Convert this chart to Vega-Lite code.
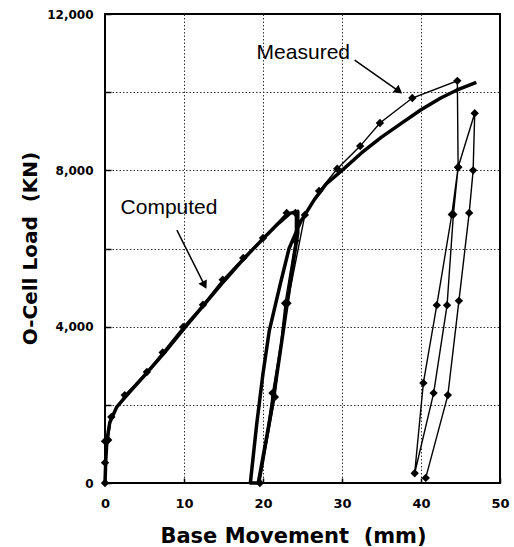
{
  "$schema": "https://vega.github.io/schema/vega-lite/v6.json",
  "width": 395,
  "height": 469,
  "autosize": {"type": "none"},
  "padding": {"left": 105, "top": 14, "right": 14, "bottom": 64},
  "background": "white",
  "config": {
    "view": {"stroke": "black", "strokeWidth": 2},
    "font": "Liberation Sans",
    "axis": {"labelFont": "DejaVu Sans", "titleFont": "DejaVu Sans", "labelColor": "black", "titleColor": "black", "domain": false}
  },
  "datasets": {
    "curves": [
      {"series": "Computed", "i": 1, "x": 0, "y": 0},
      {"series": "Computed", "i": 2, "x": 0.1, "y": 600},
      {"series": "Computed", "i": 3, "x": 0.25, "y": 1100},
      {"series": "Computed", "i": 4, "x": 0.6, "y": 1550},
      {"series": "Computed", "i": 5, "x": 1.5, "y": 1950},
      {"series": "Computed", "i": 6, "x": 3, "y": 2300},
      {"series": "Computed", "i": 7, "x": 5, "y": 2750},
      {"series": "Computed", "i": 8, "x": 7.5, "y": 3330},
      {"series": "Computed", "i": 9, "x": 10, "y": 3950},
      {"series": "Computed", "i": 10, "x": 12.5, "y": 4550},
      {"series": "Computed", "i": 11, "x": 15, "y": 5150},
      {"series": "Computed", "i": 12, "x": 17.5, "y": 5720},
      {"series": "Computed", "i": 13, "x": 20, "y": 6250},
      {"series": "Computed", "i": 14, "x": 22, "y": 6650},
      {"series": "Computed", "i": 15, "x": 23.4, "y": 6900},
      {"series": "Computed", "i": 16, "x": 24.4, "y": 6950},
      {"series": "Computed", "i": 17, "x": 24.4, "y": 6400},
      {"series": "Computed", "i": 18, "x": 23.5, "y": 5200},
      {"series": "Computed", "i": 19, "x": 22.5, "y": 3800},
      {"series": "Computed", "i": 20, "x": 21.2, "y": 2000},
      {"series": "Computed", "i": 21, "x": 19.4, "y": 0},
      {"series": "Computed", "i": 22, "x": 18.4, "y": 0},
      {"series": "Computed", "i": 23, "x": 19.2, "y": 1500},
      {"series": "Computed", "i": 24, "x": 20.0, "y": 2800},
      {"series": "Computed", "i": 25, "x": 20.8, "y": 3900},
      {"series": "Computed", "i": 26, "x": 22.2, "y": 5100},
      {"series": "Computed", "i": 27, "x": 23.3, "y": 6000},
      {"series": "Computed", "i": 28, "x": 24.8, "y": 6700},
      {"series": "Computed", "i": 29, "x": 26.5, "y": 7250},
      {"series": "Computed", "i": 30, "x": 28, "y": 7650},
      {"series": "Computed", "i": 31, "x": 30, "y": 8000},
      {"series": "Computed", "i": 32, "x": 32.5, "y": 8450},
      {"series": "Computed", "i": 33, "x": 35, "y": 8850},
      {"series": "Computed", "i": 34, "x": 37.5, "y": 9200},
      {"series": "Computed", "i": 35, "x": 40, "y": 9550},
      {"series": "Computed", "i": 36, "x": 42.5, "y": 9850},
      {"series": "Computed", "i": 37, "x": 44.5, "y": 10050},
      {"series": "Computed", "i": 38, "x": 47, "y": 10250},

      {"series": "Measured", "i": 1, "x": 0, "y": 0},
      {"series": "Measured", "i": 2, "x": 0, "y": 520},
      {"series": "Measured", "i": 3, "x": 0, "y": 1070},
      {"series": "Measured", "i": 4, "x": 0.4, "y": 1100},
      {"series": "Measured", "i": 5, "x": 0.8, "y": 1690},
      {"series": "Measured", "i": 6, "x": 2.5, "y": 2250},
      {"series": "Measured", "i": 7, "x": 5.3, "y": 2840},
      {"series": "Measured", "i": 8, "x": 7.3, "y": 3340},
      {"series": "Measured", "i": 9, "x": 9.9, "y": 3990},
      {"series": "Measured", "i": 10, "x": 12.4, "y": 4560},
      {"series": "Measured", "i": 11, "x": 14.9, "y": 5200},
      {"series": "Measured", "i": 12, "x": 17.5, "y": 5760},
      {"series": "Measured", "i": 13, "x": 20, "y": 6270},
      {"series": "Measured", "i": 14, "x": 23, "y": 6910},
      {"series": "Measured", "i": 15, "x": 24.1, "y": 6910},
      {"series": "Measured", "i": 16, "x": 24.1, "y": 6200},
      {"series": "Measured", "i": 17, "x": 22.8, "y": 4600},
      {"series": "Measured", "i": 18, "x": 21.5, "y": 2200},
      {"series": "Measured", "i": 19, "x": 19.6, "y": 0},
      {"series": "Measured", "i": 20, "x": 21.2, "y": 2300},
      {"series": "Measured", "i": 21, "x": 23.1, "y": 4600},
      {"series": "Measured", "i": 22, "x": 25.3, "y": 6860},
      {"series": "Measured", "i": 23, "x": 27.1, "y": 7470},
      {"series": "Measured", "i": 24, "x": 29.4, "y": 8040},
      {"series": "Measured", "i": 25, "x": 32.3, "y": 8620},
      {"series": "Measured", "i": 26, "x": 34.8, "y": 9210},
      {"series": "Measured", "i": 27, "x": 38.9, "y": 9850},
      {"series": "Measured", "i": 28, "x": 44.6, "y": 10290},
      {"series": "Measured", "i": 29, "x": 44.7, "y": 8080},
      {"series": "Measured", "i": 30, "x": 43.9, "y": 6870},
      {"series": "Measured", "i": 31, "x": 42.0, "y": 4550},
      {"series": "Measured", "i": 32, "x": 40.3, "y": 2560},
      {"series": "Measured", "i": 33, "x": 39.2, "y": 250},
      {"series": "Measured", "i": 34, "x": 41.6, "y": 2300},
      {"series": "Measured", "i": 35, "x": 43.3, "y": 4550},
      {"series": "Measured", "i": 36, "x": 44.1, "y": 6870},
      {"series": "Measured", "i": 37, "x": 44.7, "y": 8080},
      {"series": "Measured", "i": 38, "x": 46.8, "y": 9460},
      {"series": "Measured", "i": 39, "x": 46.6, "y": 8000},
      {"series": "Measured", "i": 40, "x": 46.1, "y": 6910},
      {"series": "Measured", "i": 41, "x": 44.8, "y": 4660},
      {"series": "Measured", "i": 42, "x": 43.4, "y": 2250},
      {"series": "Measured", "i": 43, "x": 40.6, "y": 130}
    ],
    "notes": [
      {"label": "Computed", "x": 8.1, "y": 7040, "x0": 9.1, "y0": 6470, "x1": 12.5, "y1": 5100, "xt": 12.6, "yt": 5060},
      {"label": "Measured", "x": 25.1, "y": 11000, "x0": 31.6, "y0": 10820, "x1": 37.0, "y1": 10050, "xt": 37.2, "yt": 10030}
    ]
  },
  "layer": [
    {
      "data": {"name": "curves"},
      "transform": [{"filter": "datum.series === 'Computed'"}],
      "mark": {"type": "line", "color": "black", "strokeWidth": 3.5, "strokeJoin": "round"},
      "encoding": {
        "x": {"field": "x", "type": "quantitative", "scale": {"domain": [0, 50], "nice": false},
          "axis": {"values": [0, 10, 20, 30, 40, 50], "title": "Base Movement \u00a0(mm)", "titleFontSize": 21, "titleFontWeight": "bold", "titleX": 188, "titleY": 59, "titleAlign": "center", "titleBaseline": "alphabetic",
            "labelFontSize": 13, "labelFontWeight": "bold", "labelPadding": 19, "labelFlush": false,
            "ticks": true, "tickSize": -5, "tickColor": "black", "tickWidth": 1.5,
            "grid": true, "gridColor": "#333", "gridDash": [1.5, 2], "gridWidth": 1,
            "gridOpacity": {"condition": {"test": "datum.value > 0 && datum.value < 50", "value": 1}, "value": 0}}},
        "y": {"field": "y", "type": "quantitative", "scale": {"domain": [0, 12000], "nice": false},
          "axis": {"values": [0, 1000, 2000, 3000, 4000, 5000, 6000, 7000, 8000, 9000, 10000, 11000, 12000],
            "labelExpr": "datum.value % 4000 == 0 ? format(datum.value, ',') : ''",
            "title": "O-Cell Load \u00a0(KN)", "titleFontSize": 20, "titleFontWeight": "bold", "titleX": -75, "titleY": 234, "titleAngle": -90, "titleAlign": "center", "titleBaseline": "middle",
            "labelFontSize": 12, "labelFontWeight": "bold", "labelPadding": 18, "labelFlush": false,
            "ticks": true, "tickSize": -6, "tickColor": "black", "tickWidth": 1.5,
            "grid": true, "gridColor": "#333", "gridDash": [1.5, 2], "gridWidth": 1,
            "gridOpacity": {"condition": {"test": "datum.value % 2000 == 0 && datum.value > 0 && datum.value < 12000", "value": 1}, "value": 0}}},
        "order": {"field": "i", "type": "quantitative"}
      }
    },
    {
      "data": {"name": "curves"},
      "transform": [{"filter": "datum.series === 'Measured'"}],
      "mark": {"type": "line", "color": "black", "strokeWidth": 1.4, "point": {"shape": "diamond", "filled": true, "color": "black", "size": 70}},
      "encoding": {
        "x": {"field": "x", "type": "quantitative"},
        "y": {"field": "y", "type": "quantitative"},
        "order": {"field": "i", "type": "quantitative"}
      }
    },
    {
      "data": {"name": "notes"},
      "mark": {"type": "rule", "color": "black", "strokeWidth": 1.5},
      "encoding": {
        "x": {"field": "x0", "type": "quantitative"},
        "y": {"field": "y0", "type": "quantitative"},
        "x2": {"field": "x1"},
        "y2": {"field": "y1"}
      }
    },
    {
      "data": {"name": "notes"},
      "transform": [{"filter": "datum.label === 'Computed'"}],
      "mark": {"type": "point", "shape": "triangle-up", "filled": true, "color": "black", "size": 90, "angle": 152, "opacity": 1},
      "encoding": {
        "x": {"field": "xt", "type": "quantitative"},
        "y": {"field": "yt", "type": "quantitative"}
      }
    },
    {
      "data": {"name": "notes"},
      "transform": [{"filter": "datum.label === 'Measured'"}],
      "mark": {"type": "point", "shape": "triangle-up", "filled": true, "color": "black", "size": 90, "angle": 127, "opacity": 1},
      "encoding": {
        "x": {"field": "xt", "type": "quantitative"},
        "y": {"field": "yt", "type": "quantitative"}
      }
    },
    {
      "data": {"name": "notes"},
      "mark": {"type": "text", "font": "Liberation Sans", "fontSize": 21, "color": "black", "align": "center", "baseline": "middle"},
      "encoding": {
        "x": {"field": "x", "type": "quantitative"},
        "y": {"field": "y", "type": "quantitative"},
        "text": {"field": "label"}
      }
    }
  ]
}
